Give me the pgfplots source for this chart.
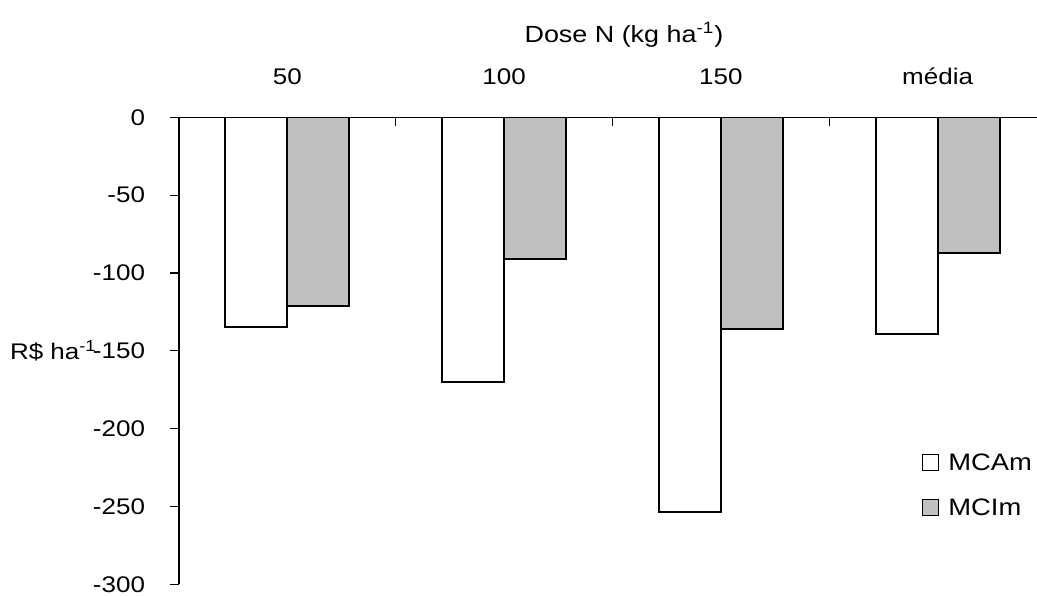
\documentclass[border=0pt]{standalone}
\usepackage{fontspec}
\setmainfont{Liberation Sans}[FakeStretch=1.15]
\usepackage{pgfplots}
\pgfplotsset{compat=1.18}
\definecolor{barGray}{HTML}{C0C0C0}
\begin{document}
\begin{tikzpicture}
\path[use as bounding box] (-89.5pt,-5.35pt) rectangle (429pt,292.15pt);
\begin{axis}[
  at={(0,0)}, anchor=south west,
  scale only axis, width=429pt, height=233.5pt,
  xmin=0, xmax=3.9585, ymin=-300, ymax=0,
  axis x line*=top, axis y line*=left,
  axis line style={black, line width=0.6pt},
  ybar=0pt, bar width=31pt,
  tick align=outside,
  xtick={0.5,1.5,2.5,3.5}, xticklabels={50,100,150,média},
  major x tick style={draw=none},
  minor xtick={1,2,3},
  minor tick length=4.3pt,
  major tick length=4.3pt,
  minor x tick style={black, line width=0.6pt, yshift=-4.3pt},
  ytick={-300,-250,-200,-150,-100,-50,0},
  yticklabels={-300,-250,-200,-150,-100,-50,0},
  y tick style={black, line width=0.6pt},
  xticklabel style={anchor=base, inner sep=0pt, yshift=11.9pt, font=\fontsize{11.3}{13}\selectfont},
  yticklabel style={anchor=east, inner sep=0pt, xshift=-12.5pt, font=\fontsize{11.3}{13}\selectfont},
  ylabel={R\$ ha\textsuperscript{-1}},
  every axis y label/.style={at={(axis description cs:0,0.5)}, anchor=east, inner sep=0pt, xshift=-41pt, font=\fontsize{11.3}{13}\selectfont},
  title={Dose N (kg ha\textsuperscript{-1})},
  every axis title shift=0pt,
  title style={at={(axis description cs:0.5186,1)}, anchor=base, inner sep=0pt, yshift=37.6pt, font=\fontsize{11.7}{14}\selectfont},
  legend style={at={(axis description cs:0.8706,0.280)}, anchor=north west, xshift=-2pt, draw=none, fill=none, inner sep=0pt, row sep=12.5pt, column sep=4.5pt, nodes={inner sep=0pt, anchor=base west}, font=\fontsize{11.9}{14}\selectfont},
  legend cell align=left,
  legend image code/.code={\draw[#1, line width=0.5pt] (0pt,0.2pt) rectangle (8pt,8.2pt);},
]
\addplot[fill=white, draw=black, line width=0.9pt] coordinates {(0.5,-134.5) (1.5,-170.0) (2.5,-253.4) (3.5,-139.0)};
\addplot[fill=barGray, draw=black, line width=0.9pt] coordinates {(0.5,-121.2) (1.5,-91.2) (2.5,-135.8) (3.5,-87.0)};
\legend{MCAm, MCIm}
\end{axis}
\end{tikzpicture}
\end{document}
